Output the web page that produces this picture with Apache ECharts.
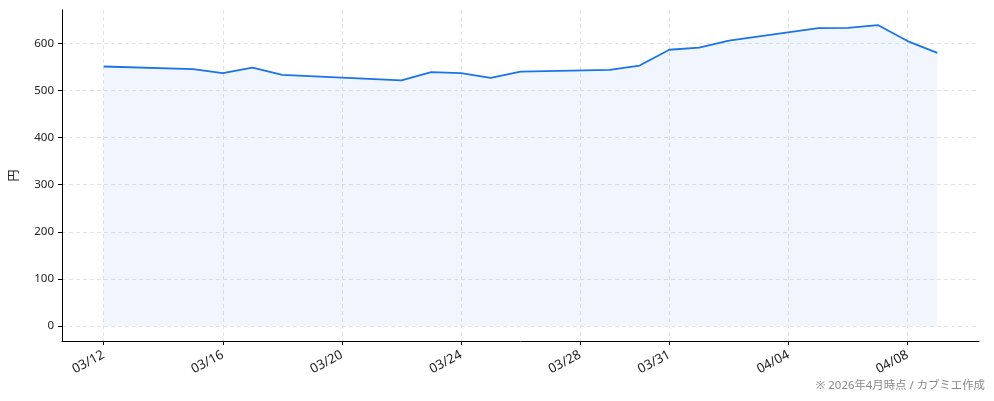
<!DOCTYPE html>
<html><head><meta charset="utf-8">
<script src="https://cdn.jsdelivr.net/npm/echarts@6/dist/echarts.min.js"></script>
<style>html,body{margin:0;padding:0;background:#fff}#c{width:994px;height:401px}</style>
</head><body><div id="c"></div>
<script>
const dates = ['2026-03-12','2026-03-15','2026-03-16','2026-03-17','2026-03-18','2026-03-22','2026-03-23','2026-03-24','2026-03-25','2026-03-26','2026-03-29','2026-03-30','2026-03-31','2026-04-01','2026-04-02','2026-04-05','2026-04-06','2026-04-07','2026-04-08','2026-04-09'];
const prices = [551,545.5,537,548.5,533,521.5,539,537,527,540,544,553,586.5,591,606,632.5,633,639,605,580];
const xTickLabels = ['03/12','03/16','03/20','03/24','03/28','03/31','04/04','04/08'];
const yTicks = [0,100,200,300,400,500,600];

const DAY = 86400000;
const base = Date.UTC(2026,2,12);
function toDay(s){const p=s.split('-').map(Number);return (Date.UTC(p[0],p[1]-1,p[2])-base)/DAY;}
function labelToDay(l){const p=l.split('/').map(Number);return (Date.UTC(2026,p[0]-1,p[1])-base)/DAY;}
function dayToLabel(d){const t=new Date(base+Math.round(d)*DAY);return String(t.getUTCMonth()+1).padStart(2,'0')+'/'+String(t.getUTCDate()).padStart(2,'0');}

const xs = dates.map(toDay);
const xTicks = xTickLabels.map(labelToDay);
const span = xs[xs.length-1]-xs[0];
const ymax = Math.max(...prices);
const font = '"Noto Sans", "Noto Sans CJK JP", sans-serif';

const chart = echarts.init(document.getElementById('c'), null, {renderer:'canvas'});
chart.setOption({
  animation:false,
  textStyle:{fontFamily:font},
  grid:{left:62,right:15,top:10,bottom:60,containLabel:false},
  xAxis:{
    type:'value',
    min:xs[0]-span*0.05, max:xs[xs.length-1]+span*0.05,
    axisLine:{show:true,onZero:false,lineStyle:{color:'#000',width:1}},
    axisTick:{show:true,customValues:xTicks,length:4,lineStyle:{color:'#000'}},
    axisLabel:{customValues:xTicks,rotate:28,formatter:v=>dayToLabel(v),color:'#222',fontSize:13,margin:13,fontFamily:font},
    splitLine:{show:true,lineStyle:{color:'#e3e3e8',type:[4,3],width:1}}
  },
  yAxis:{
    type:'value',
    min:-ymax*0.05, max:ymax*1.05,
    name:'円', nameLocation:'middle', nameGap:41, nameRotate:90,
    nameTextStyle:{color:'#222',fontSize:12,fontFamily:font},
    axisLine:{show:true,onZero:false,lineStyle:{color:'#000',width:1}},
    axisTick:{show:true,customValues:yTicks,length:4,lineStyle:{color:'#000'}},
    axisLabel:{customValues:yTicks,color:'#222',fontSize:11.5,margin:8,fontFamily:font},
    splitLine:{show:true,lineStyle:{color:'#e3e3e8',type:[4,3],width:1}}
  },
  graphic:[{type:'text',right:9,bottom:10,style:{text:'※ 2026年4月時点 / カブミエ作成',fill:'#888',fontSize:11.4,fontFamily:font,textAlign:'right'}}],
  series:[{
    type:'line',
    data:xs.map((x,i)=>[x,prices[i]]),
    showSymbol:false,
    lineStyle:{color:'#1a73e8',width:1.8},
    areaStyle:{color:'rgba(26,115,232,0.09)',origin:0},
    z:3
  }]
});
</script></body></html>
